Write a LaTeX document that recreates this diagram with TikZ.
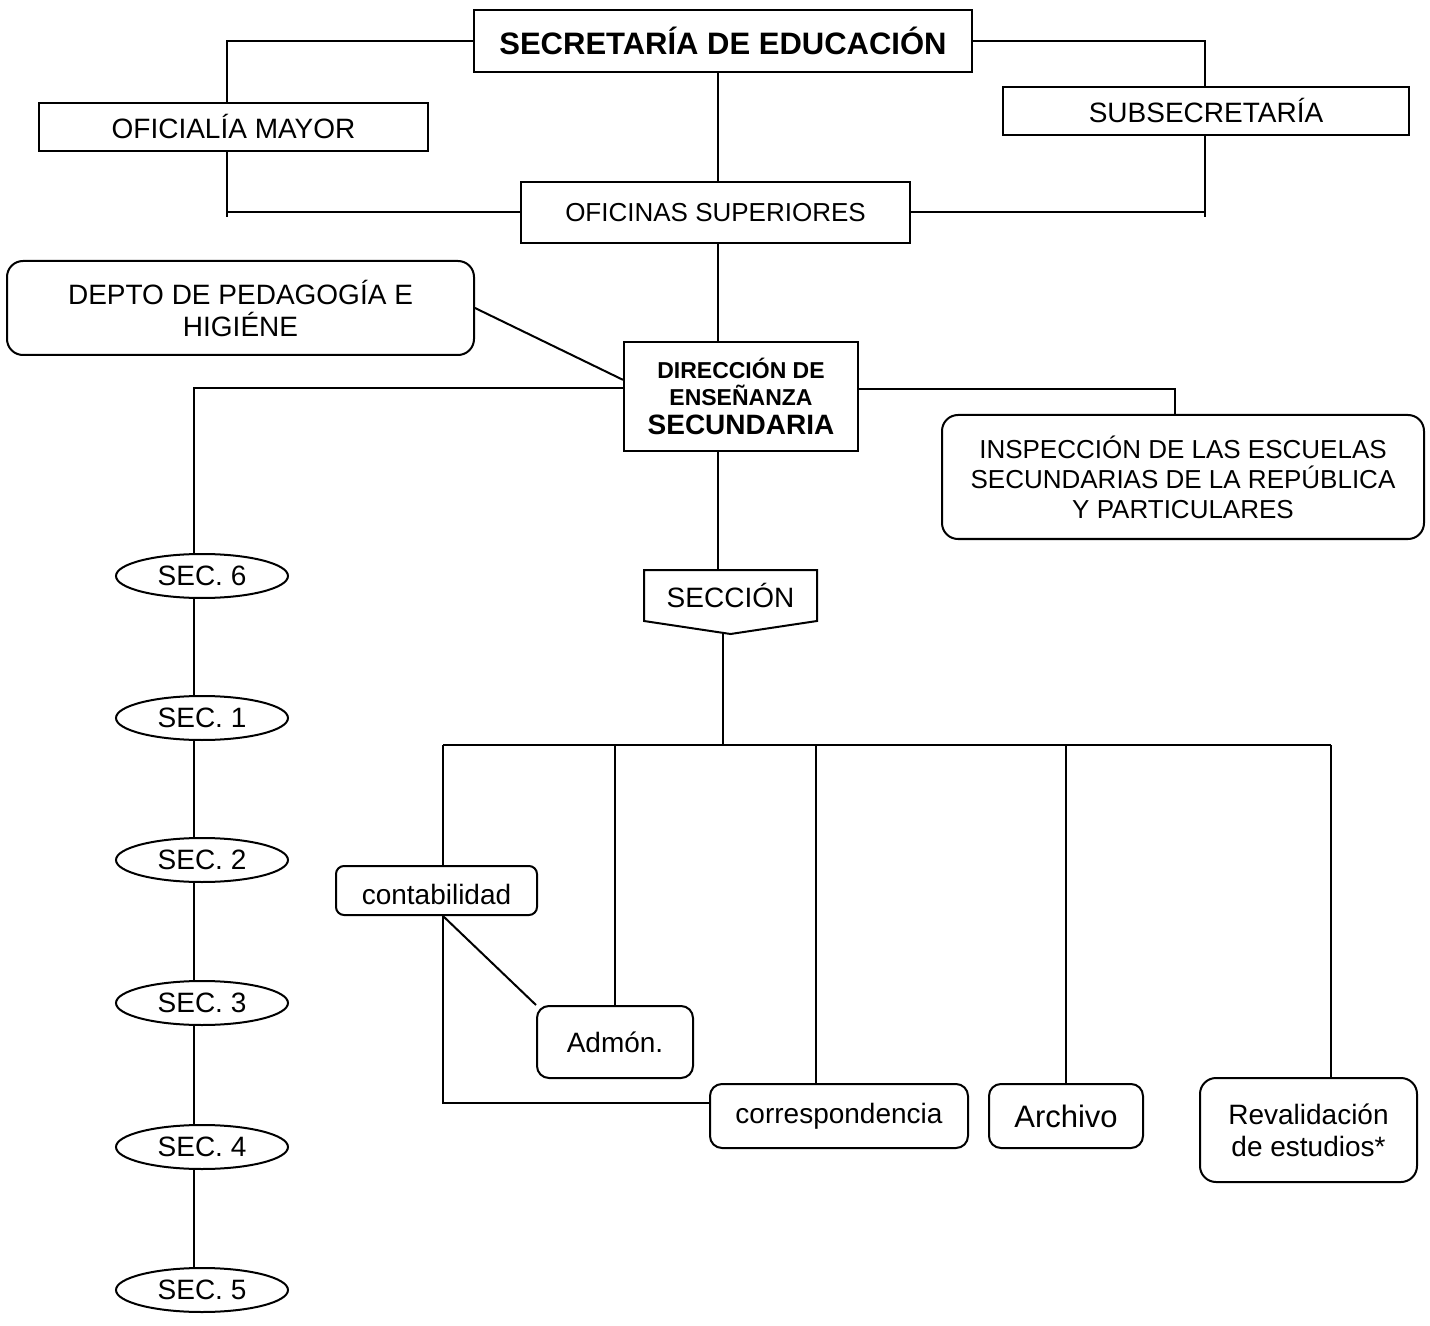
\documentclass[tikz,border=0pt]{standalone}
\usepackage{fontspec}
\setmainfont{Liberation Sans}
\usetikzlibrary{calc}
\usetikzlibrary{positioning}
\usetikzlibrary{shapes.geometric}

\begin{document}
\begin{tikzpicture}[x=0.5pt, y=-0.5pt, line width=1pt,
    box/.style={draw, inner sep=0pt, align=center, font=\fontsize{14}{16}\selectfont},
    rbox/.style={box, rounded corners=6pt},
    secbox/.style={draw, ellipse, inner sep=0pt, minimum width=86pt, minimum height=22pt, font=\fontsize{14}{16}\selectfont}]
  \useasboundingbox (0,0) rectangle (1430,1326);

  \node[box, minimum width=249pt, minimum height=31pt, font=\fontsize{15.5}{18}\selectfont\bfseries] (secre) at (723,41) {SECRETARÍA DE EDUCACIÓN};
  \node[box, minimum width=194.5pt, minimum height=24pt, text height=12pt, text depth=0pt] (ofic) at (233.5,127) {OFICIALÍA MAYOR};
  \node[box, minimum width=203pt, minimum height=24pt, text height=12pt, text depth=0pt] (subs) at (1206,111) {SUBSECRETARÍA};
  \node[box, minimum width=194.5pt, minimum height=30.5pt, font=\fontsize{13}{15}\selectfont] (ofsup) at (715.5,212.5) {OFICINAS SUPERIORES};
  \node[rbox, rounded corners=8pt, minimum width=233.5pt, minimum height=47pt] (depto) at (240.5,308) {DEPTO DE PEDAGOGÍA E\\HIGIÉNE};
  \node[box, minimum width=117pt, minimum height=54.5pt, font=\fontsize{11.5}{13.5}\selectfont\bfseries] (direc) at (741,396.5) {DIRECCIÓN DE\\ENSEÑANZA\\[1pt]{\fontsize{14}{16}\selectfont SECUNDARIA}};
  \node[rbox, rounded corners=8pt, minimum width=241pt, minimum height=62pt, font=\fontsize{13}{15}\selectfont] (insp) at (1183,477) {INSPECCIÓN DE LAS ESCUELAS\\SECUNDARIAS DE LA REPÚBLICA\\Y PARTICULARES};

  \node[box, draw=none, minimum width=85.5pt, minimum height=24.5pt] (secc) at (730.5,595.5) {SECCIÓN};
  \coordinate (sectip) at ($(secc.south)+(0,13)$);
  \draw (secc.north west) -- (secc.north east) -- (secc.south east) -- (sectip) -- (secc.south west) -- cycle;

  \foreach \n/\y in {6/576,1/718,2/860,3/1003,4/1147,5/1290}
    \node[secbox] (s\n) at (202,\y) {SEC. \n};

  \node[rbox, rounded corners=4pt, minimum width=100.5pt, minimum height=24.5pt, text height=13.5pt, text depth=0pt] (conta) at (436.5,890.5) {contabilidad};
  \node[rbox, minimum width=78pt, minimum height=36pt] (admon) at (615,1042) {Admón.};
  \node[rbox, minimum width=129pt, minimum height=32pt] (corr) at (839,1116) {correspondencia};
  \node[rbox, minimum width=77pt, minimum height=32pt, font=\fontsize{15.5}{18}\selectfont] (arch) at (1066,1116) {Archivo};
  \node[rbox, rounded corners=8pt, minimum width=108.5pt, minimum height=52pt] (reval) at (1308.5,1130) {Revalidación\\de estudios*};

  \coordinate (lcol) at (227,217);
  \coordinate (rcol) at (1205,217);
  \coordinate (mcol) at (718,0);
  \coordinate (scol) at (194,0);
  \draw (secre.west) -| (ofic.north -| lcol);
  \draw (ofic.south -| lcol) -- (lcol);
  \draw (lcol |- ofsup.west) -- (ofsup.west);
  \draw (secre.east) -| (subs.north -| rcol);
  \draw (subs.south -| rcol) -- (rcol);
  \draw (ofsup.east) -- (rcol |- ofsup.east);
  \draw (secre.south -| mcol) -- (ofsup.north -| mcol);
  \draw (ofsup.south -| mcol) -- (direc.north -| mcol);
  \draw (depto.east) -- ($(direc.north west)!0.35!(direc.south west)$);
  \draw ($(direc.north west)!0.42!(direc.south west)$) -| (s6.north -| scol);
  \draw ($(direc.north east)!0.43!(direc.south east)$) -| ([xshift=-4pt]insp.north);
  \draw (direc.south -| mcol) -- (secc.north -| mcol);

  \foreach \a/\b in {6/1,1/2,2/3,3/4,4/5}
    \draw (s\a.south -| scol) -- (s\b.north -| scol);

  \coordinate (bus) at (723,745);
  \coordinate (dconta) at (443,745);
  \coordinate (dadmon) at (615,745);
  \coordinate (dcorr) at (816,745);
  \coordinate (darch) at (1066,745);
  \coordinate (dreval) at (1331,745);
  \draw (bus |- sectip) -- (bus);
  \draw (dconta) -- (dreval);
  \draw (dconta) -- (dconta |- conta.north);
  \draw (dadmon) -- (dadmon |- admon.north);
  \draw (dcorr) -- (dcorr |- corr.north);
  \draw (darch) -- (darch |- arch.north);
  \draw (dreval) -- (dreval |- reval.north);
  \draw (conta.south -| dconta) |- ($(corr.north west)!0.3!(corr.south west)$);
  \draw (conta.south -| dconta) -- (admon.north west);
\end{tikzpicture}
\end{document}
